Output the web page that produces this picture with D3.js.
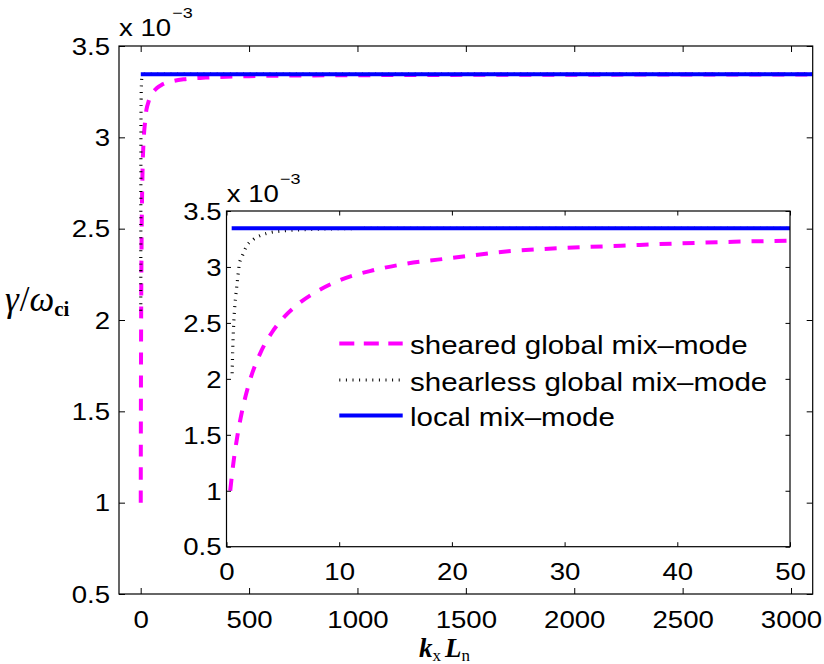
<!DOCTYPE html>
<html><head><meta charset="utf-8">
<script src="https://cdn.jsdelivr.net/npm/d3@7"></script>
<style>body{margin:0;background:#fff}svg{display:block}</style>
</head><body>
<svg id="c" width="824" height="664"></svg>
<script>
// ---- data (gamma in units of 1e-3) ----
const shearedKx = [0.33, 0.6, 1, 1.4, 2, 3, 4, 5, 6.5, 8, 10, 13, 16, 20, 25, 30, 35, 40, 45, 50, 75, 100, 150, 200, 300, 500, 800, 1200, 2000, 3100];
const shearedGamma = [1.00, 1.24, 1.51, 1.72, 1.96, 2.23, 2.41, 2.54, 2.68, 2.78, 2.88, 2.97, 3.03, 3.08, 3.14, 3.17, 3.19, 3.21, 3.225, 3.235, 3.27, 3.29, 3.308, 3.318, 3.327, 3.335, 3.339, 3.341, 3.343, 3.344];
const shearlessKx = [0.5, 0.55, 0.62, 0.7, 0.8, 0.95, 1.15, 1.37, 1.75, 2.4, 3.1, 4, 5, 6.5, 8, 10, 15, 20, 50, 3100];
const shearlessGamma = [2.05, 2.25, 2.45, 2.6, 2.72, 2.86, 3.03, 3.09, 3.18, 3.247, 3.285, 3.31, 3.322, 3.332, 3.338, 3.342, 3.345, 3.346, 3.346, 3.346];
const localKx = [0.46, 3100];
const localGamma = [3.346, 3.346];

const mainXTicks = [0, 500, 1000, 1500, 2000, 2500, 3000];
const mainYTicks = [0.5, 1, 1.5, 2, 2.5, 3, 3.5];
const insetXTicks = [0, 10, 20, 30, 40, 50];
const insetYTicks = [0.5, 1, 1.5, 2, 2.5, 3, 3.5];
const seriesNames = ["sheared global mix\u2013mode", "shearless global mix\u2013mode", "local mix\u2013mode"];
const seriesColors = ["#ff00ff", "#000000", "#0000ff"];

const SX = 1.2; // horizontal stretch of the text
const svg = d3.select("#c");

const series = [
  {x: shearedKx, y: shearedGamma, color: seriesColors[0], w: 4, dash: "12,11"},
  {x: shearlessKx, y: shearlessGamma, color: seriesColors[1], w: 3.2, dash: "1,5.6"},
  {x: localKx, y: localGamma, color: seriesColors[2], w: 4, dash: null}
];

function panel(id, x, y, xt, yt, tick, gapY, labOff) {
  const [x0, x1] = x.range(), [y0, y1] = y.range();
  const g = svg.append("g");
  g.append("rect").attr("x", x0).attr("y", y1).attr("width", x1 - x0).attr("height", y0 - y1).attr("fill", "#fff");
  g.append("clipPath").attr("id", id).append("rect")
    .attr("x", x0).attr("y", y1 - 3).attr("width", x1 - x0).attr("height", y0 - y1 + 6);
  const lines = g.append("g").attr("clip-path", `url(#${id})`);
  series.forEach(s => {
    const pts = s.x.map((v, i) => [v, s.y[i]]);
    const gen = d3.line().x(d => x(d[0])).y(d => y(d[1])).curve(d3.curveMonotoneX);
    const p = lines.append("path").attr("d", gen(pts)).attr("fill", "none")
      .attr("stroke", s.color).attr("stroke-width", s.w);
    if (s.dash) p.attr("stroke-dasharray", s.dash);
  });
  const font = (sel) => sel.attr("font-family", "'Liberation Sans', Arial, sans-serif").attr("font-size", 23);
  // bottom
  const gb = g.append("g").attr("transform", `translate(0,${y0})`)
    .call(d3.axisBottom(x).tickValues(xt).tickSizeInner(-tick).tickSizeOuter(0).tickFormat(d3.format("")));
  gb.call(font);
  gb.select(".domain").remove();
  gb.selectAll(".tick line").attr("stroke", "#000");
  gb.selectAll("text").attr("y", labOff).attr("dy", null).attr("fill", "#000")
    .attr("transform", `scale(${SX},1)`);
  // top
  const gt = g.append("g").attr("transform", `translate(0,${y1})`)
    .call(d3.axisTop(x).tickValues(xt).tickSizeInner(-tick).tickSizeOuter(0));
  gt.select(".domain").remove(); gt.selectAll("text").remove();
  // left
  const gl = g.append("g").attr("transform", `translate(${x0},0)`)
    .call(d3.axisLeft(y).tickValues(yt).tickSizeInner(-tick).tickSizeOuter(0).tickFormat(d3.format("")));
  gl.call(font);
  gl.select(".domain").remove();
  gl.selectAll("text").attr("x", -gapY / SX).attr("dy", "0.36em").attr("fill", "#000")
    .attr("transform", `scale(${SX},1)`);
  // right
  const gr = g.append("g").attr("transform", `translate(${x1},0)`)
    .call(d3.axisRight(y).tickValues(yt).tickSizeInner(-tick).tickSizeOuter(0));
  gr.select(".domain").remove(); gr.selectAll("text").remove();
  // box
  g.append("rect").attr("x", x0).attr("y", y1).attr("width", x1 - x0).attr("height", y0 - y1)
    .attr("fill", "none").attr("stroke", "#000").attr("stroke-width", 1.2);
  return g;
}

function expLabel(px, py) {
  const t = svg.append("g").attr("transform", `translate(${px},${py}) scale(${SX},1)`)
    .append("text").attr("font-family", "'Liberation Sans', Arial, sans-serif").attr("font-size", 23).attr("fill", "#000");
  t.append("tspan").text("x 10");
  t.append("tspan").attr("font-size", 15).attr("dy", -18).attr("dx", 1).text("\u22123");
}

// main
const xMain = d3.scaleLinear().domain([-100, 3100]).range([119, 812.7]);
const yMain = d3.scaleLinear().domain([0.5, 3.5]).range([594, 46]);
panel("clipMain", xMain, yMain, mainXTicks, mainYTicks, 6, 9, 34.3);
expLabel(119, 36);

// inset
const xIn = d3.scaleLinear().domain([0, 50]).range([226.5, 790]);
const yIn = d3.scaleLinear().domain([0.5, 3.5]).range([546.7, 211]);
panel("clipIn", xIn, yIn, insetXTicks, insetYTicks, 4.5, 5, 33.3);
expLabel(226.7, 202.3);

// legend
const leg = svg.append("g");
const rows = [343.5, 380, 415.5];
series.forEach((s, i) => {
  const l = leg.append("line").attr("x1", 339.3).attr("x2", 402.7).attr("y1", rows[i]).attr("y2", rows[i])
    .attr("stroke", s.color).attr("stroke-width", s.w);
  if (s.dash) l.attr("stroke-dasharray", i === 0 ? "15,9.5" : s.dash);
  leg.append("g").attr("transform", `translate(410,${rows[i] + 10.5}) scale(1.18,1)`)
    .append("text").attr("font-family", "'Liberation Sans', Arial, sans-serif").attr("font-size", 25)
    .attr("fill", "#000").text(seriesNames[i]);
});

// y label
const yl = svg.append("text").attr("x", 5).attr("y", 311).attr("font-family", "'Liberation Serif', 'DejaVu Serif', serif")
  .attr("font-size", 35).attr("fill", "#000");
yl.append("tspan").attr("font-style", "italic").text("\u03b3");
yl.append("tspan").attr("dx", 1).text("/");
yl.append("tspan").attr("font-style", "italic").text("\u03c9");
yl.append("tspan").attr("font-weight", "bold").attr("font-size", 21).attr("dy", 5).text("ci");

// x label
const xl = svg.append("text").attr("x", 419).attr("y", 657).attr("font-family", "'Liberation Serif', 'DejaVu Serif', serif")
  .attr("font-size", 27).attr("fill", "#000");
xl.append("tspan").attr("font-style", "italic").attr("font-weight", "bold").text("k");
xl.append("tspan").attr("font-size", 17).attr("dy", 4).text("x");
xl.append("tspan").attr("font-style", "italic").attr("font-weight", "bold").attr("dy", -4).attr("dx", 4).text("L");
xl.append("tspan").attr("font-size", 17).attr("dy", 4).text("n");
</script>
</body></html>
